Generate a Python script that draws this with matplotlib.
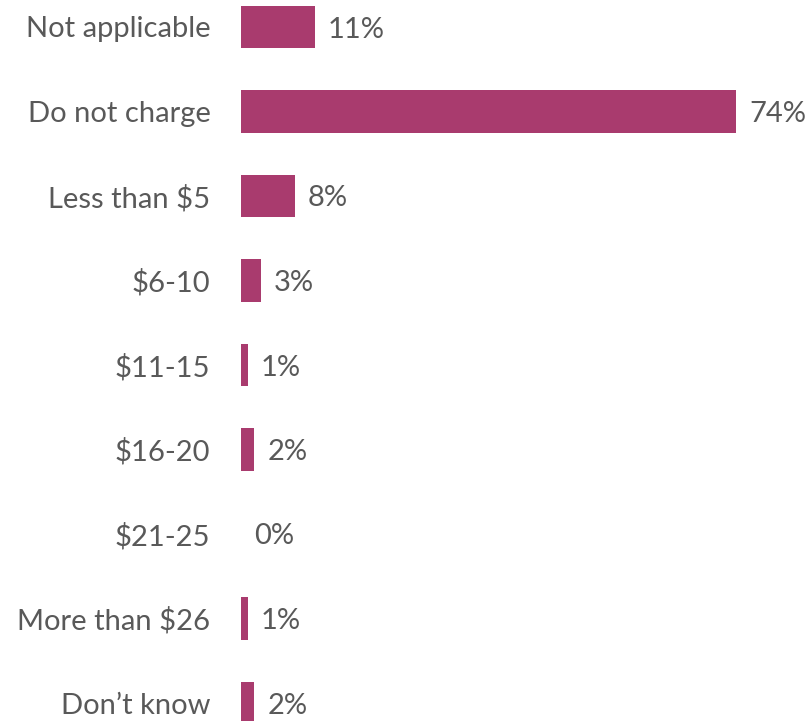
import matplotlib.pyplot as plt

categories = ['Not applicable', 'Do not charge', 'Less than $5', '$6-10', '$11-15',
              '$16-20', '$21-25', 'More than $26', 'Don\u2019t know']
values = [11, 74, 8, 3, 1, 2, 0, 1, 2]

bar_color = '#A93B6E'
text_color = '#595959'
plt.rcParams['font.family'] = ['Lato', 'DejaVu Sans']

fig = plt.figure(figsize=(8.08, 7.21), dpi=100)
ax = fig.add_axes([241 / 808, 0, 567 / 808, 1])

ypos = list(range(len(categories)))
ax.barh(ypos, values, height=0.5, color=bar_color)

for y, v in zip(ypos, values):
    ax.annotate(f'{v}%', (v, y), xytext=(9.5, 0), textcoords='offset points',
                ha='left', va='center_baseline', fontsize=21, color=text_color,
                annotation_clip=False)

ax.set_xlim(0, 567 / 6.689)
ax.set_ylim((721 - 27) / 84.5, -27 / 84.5)
ax.set_yticks(ypos)
ax.set_yticklabels(categories, fontsize=21, color=text_color, va='center_baseline')
ax.tick_params(axis='y', length=0, pad=22)
ax.set_xticks([])
for s in ax.spines.values():
    s.set_visible(False)

fig.savefig('out.png', dpi=100)
